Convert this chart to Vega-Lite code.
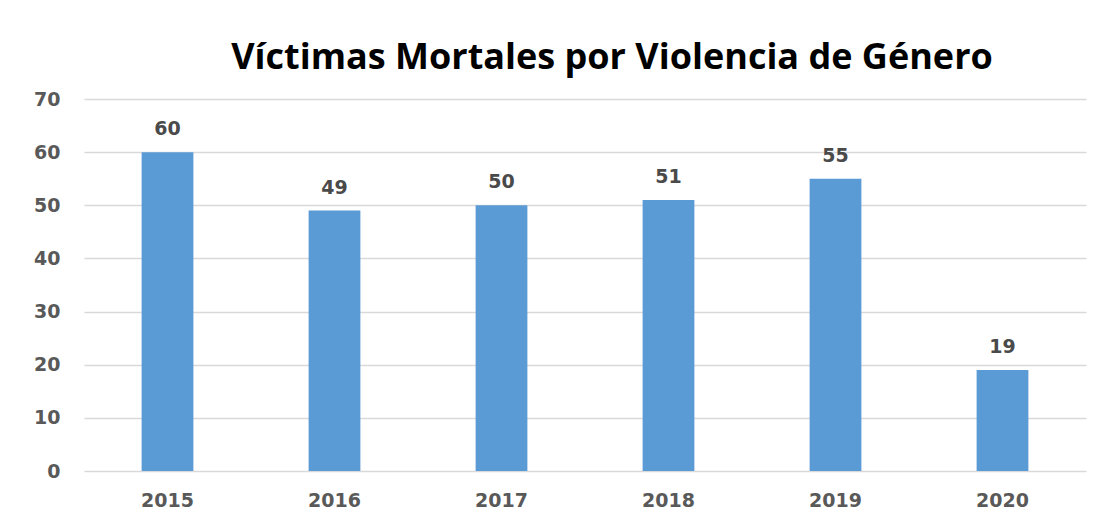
{
  "$schema": "https://vega.github.io/schema/vega-lite/v6.json",
  "width": 1002,
  "height": 372,
  "autosize": "none",
  "padding": {"left": 84, "top": 99, "right": 21, "bottom": 48},
  "background": "white",
  "title": {
    "text": "Víctimas Mortales por Violencia de Género",
    "font": "Open Sans",
    "fontSize": 36,
    "fontWeight": "bold",
    "color": "#000000",
    "anchor": "middle",
    "dx": 27,
    "dy": 44,
    "baseline": "alphabetic",
    "offset": 29
  },
  "data": {
    "values": [
      {"year": "2015", "victims": 60},
      {"year": "2016", "victims": 49},
      {"year": "2017", "victims": 50},
      {"year": "2018", "victims": 51},
      {"year": "2019", "victims": 55},
      {"year": "2020", "victims": 19}
    ]
  },
  "encoding": {
    "x": {
      "field": "year",
      "type": "nominal",
      "scale": {"paddingInner": 0.69, "paddingOuter": 0.345},
      "axis": {
        "title": null,
        "labelAngle": 0,
        "domain": false,
        "ticks": false,
        "labelPadding": 20,
        "labelFont": "DejaVu Sans",
        "labelFontSize": 19,
        "labelFontWeight": "bold",
        "labelColor": "#595959"
      }
    },
    "y": {
      "field": "victims",
      "type": "quantitative",
      "scale": {"domain": [0, 70]},
      "axis": {
        "title": null,
        "values": [0, 10, 20, 30, 40, 50, 60, 70],
        "domain": false,
        "ticks": false,
        "grid": true,
        "gridColor": "#D9D9D9",
        "gridWidth": 1.5,
        "labelPadding": 24,
        "labelFont": "DejaVu Sans",
        "labelFontSize": 19,
        "labelFontWeight": "bold",
        "labelColor": "#595959"
      }
    }
  },
  "layer": [
    {"mark": {"type": "bar", "color": "#5B9BD5"}},
    {
      "mark": {
        "type": "text",
        "baseline": "alphabetic",
        "dy": -17,
        "font": "DejaVu Sans",
        "fontSize": 19,
        "fontWeight": "bold",
        "color": "#4A4A4A"
      },
      "encoding": {"text": {"field": "victims", "type": "quantitative"}}
    }
  ],
  "config": {"view": {"stroke": null}}
}
